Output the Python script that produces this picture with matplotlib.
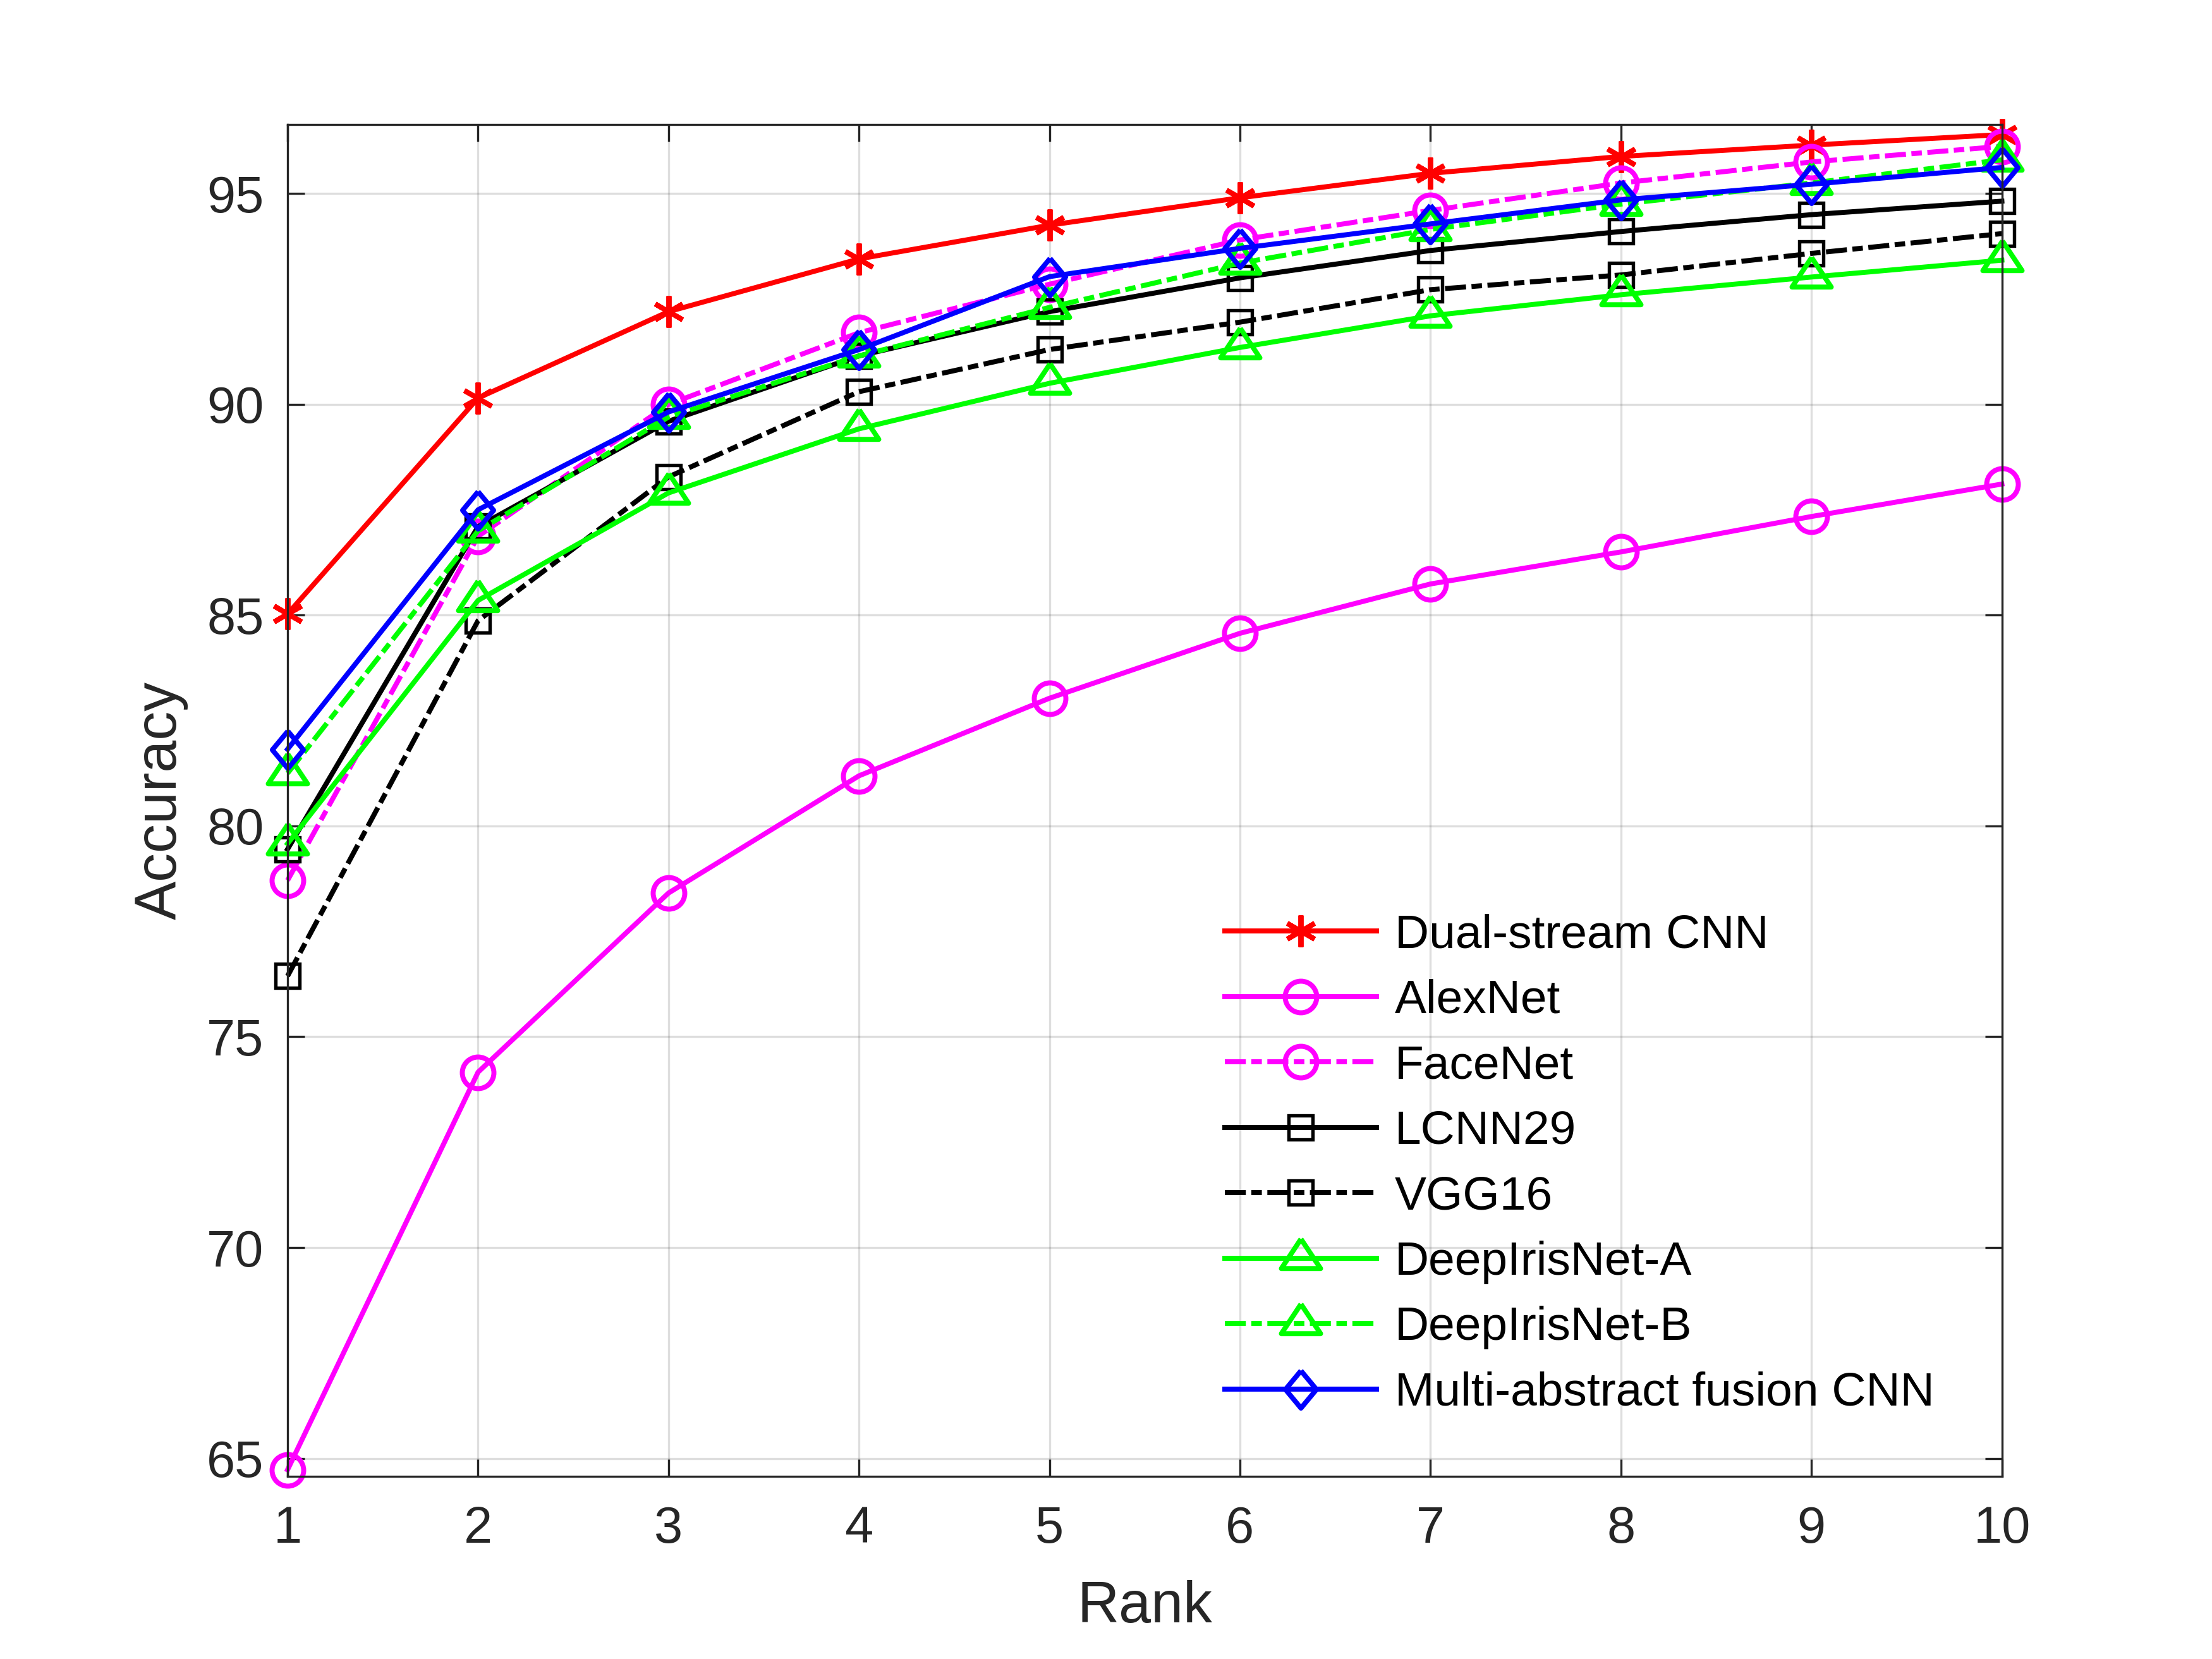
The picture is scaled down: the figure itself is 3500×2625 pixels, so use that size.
import matplotlib
matplotlib.use('Agg')
import matplotlib.pyplot as plt
import numpy as np

plt.rcParams['font.family'] = ['Liberation Sans', 'DejaVu Sans']

rank = [1, 2, 3, 4, 5, 6, 7, 8, 9, 10]

dual_stream = [85.03, 90.15, 92.2, 93.45, 94.25, 94.9, 95.48, 95.88, 96.15, 96.4]
alexnet = [64.73, 74.16, 78.41, 81.19, 83.03, 84.57, 85.74, 86.5, 87.34, 88.11]
facenet = [78.71, 86.87, 90.0, 91.7, 92.85, 93.9, 94.6, 95.25, 95.75, 96.12]
lcnn29 = [79.45, 87.1, 89.6, 91.15, 92.2, 93.0, 93.65, 94.1, 94.5, 94.82]
vgg16 = [76.44, 84.87, 88.28, 90.3, 91.3, 91.95, 92.72, 93.07, 93.58, 94.05]
deepiris_a = [79.58, 85.35, 87.9, 89.42, 90.5, 91.35, 92.1, 92.6, 93.02, 93.42]
deepiris_b = [81.25, 87.0, 89.7, 91.15, 92.3, 93.35, 94.15, 94.75, 95.25, 95.8]
multi_abstract = [81.82, 87.5, 89.82, 91.3, 93.03, 93.7, 94.28, 94.85, 95.22, 95.62]

# matlab-like markers
tri = [(0, 31), (-31, -15.7), (31, -15.7), (0, 31)]
dia = [(0, 29.5), (24.5, 0), (0, -29.5), (-24.5, 0), (0, 29.5)]
dashdot = (0, (4.2, 1.1, 2.1, 1.1))

RED, MAG, BLK, GRN, BLU = '#ff0000', '#ff00ff', '#000000', '#00ff00', '#0000ff'

series = [
    ('Dual-stream CNN', dual_stream, RED, '-', (6, 2, 0), 12),
    ('AlexNet', alexnet, MAG, '-', 'o', 12),
    ('FaceNet', facenet, MAG, dashdot, 'o', 12),
    ('LCNN29', lcnn29, BLK, '-', 's', 9),
    ('VGG16', vgg16, BLK, dashdot, 's', 9),
    ('DeepIrisNet-A', deepiris_a, GRN, '-', tri, 14.9),
    ('DeepIrisNet-B', deepiris_b, GRN, dashdot, tri, 14.9),
    ('Multi-abstract fusion CNN', multi_abstract, BLU, '-', dia, 14.2),
]

fig = plt.figure(figsize=(11.6667, 8.75), dpi=300)
ax = fig.add_axes([0.13, 0.11, 0.775, 0.815])

for name, vals, col, ls, mk, ms in series:
    mew = 1.3 if mk == 's' else 1.9
    ax.plot(rank, vals, color=col, linestyle=ls, marker=mk, markersize=ms,
            markerfacecolor='none', markeredgecolor=col, markeredgewidth=mew,
            linewidth=1.9, label=name, clip_on=False)

ax.set_xlim(1, 10)
ax.set_ylim(64.57, 96.64)
ax.set_xticks(rank)
ax.set_yticks([65, 70, 75, 80, 85, 90, 95])
ax.grid(True, color='#262626', alpha=0.15, linewidth=0.8)
ax.set_axisbelow(True)
ax.tick_params(direction='in', length=6.5, width=0.8, labelsize=19.5,
               colors='#262626', top=True, right=True)
ax.tick_params(axis='y', pad=9)
ax.tick_params(axis='x', pad=11)
for s in ax.spines.values():
    s.set_color('#262626')
    s.set_linewidth(0.8)

ax.set_xlabel('Rank', fontsize=22, color='#262626', labelpad=10)
ax.set_ylabel('Accuracy', fontsize=22, color='#262626', labelpad=7)

ax.legend(loc='center left', bbox_to_anchor=(0.5355, 0.231), frameon=False,
          fontsize=18, handlelength=3.2, handletextpad=0.39,
          labelspacing=0.46, borderaxespad=0)

fig.savefig('out.png', dpi=300)
